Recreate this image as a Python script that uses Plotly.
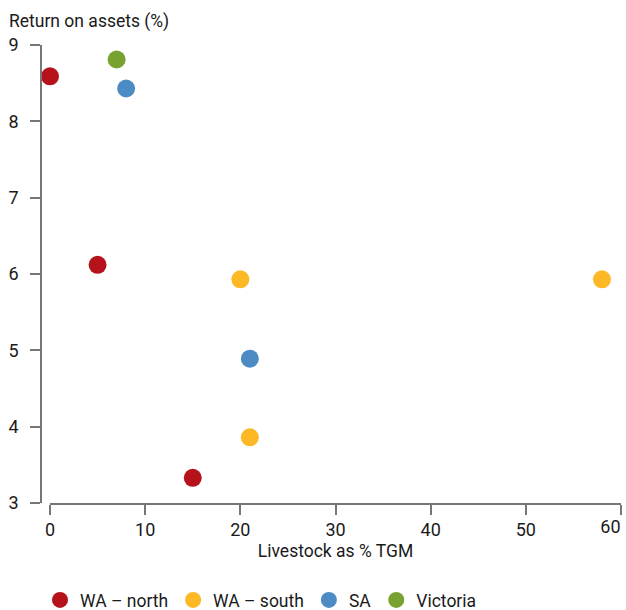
import plotly.graph_objects as go

series_names = ["WA – north", "WA – south", "SA", "Victoria"]
series_colors = ["#b5121b", "#fdb825", "#4d8bc4", "#77a22f"]
livestock = [
    [0, 5, 15],
    [20, 58, 21],
    [8, 21],
    [7],
]
roa = [
    [8.59, 6.12, 3.33],
    [5.93, 5.93, 3.86],
    [8.43, 4.89],
    [8.81],
]
x_ticks = [0, 10, 20, 30, 40, 50, 60]
x_tick_labels = ["0", "10", "20", "30", "40", "50", "60"]
y_ticks = [3, 4, 5, 6, 7, 8, 9]

FONT = "Roboto, Liberation Sans, sans-serif"
FS_TICK = 18
FS_TEXT = 17.5
AX = "#777777"

fig = go.Figure()
for name, color, xs, ys in zip(series_names, series_colors, livestock, roa):
    fig.add_trace(go.Scatter(
        x=xs, y=ys, mode="markers", name=name,
        marker=dict(size=18, color=color, line=dict(width=0)),
        cliponaxis=False,
    ))
# empty trace only so that the overlaying label axis (xaxis2) is drawn
fig.add_trace(go.Scatter(x=[], y=[], xaxis="x2", yaxis="y", showlegend=False,
                         hoverinfo="skip", mode="markers"))

L, R, T, B = 41, 5, 45, 107
plot_w = 626 - L - R
plot_h = 610 - T - B
x_dom = [9 / plot_w, 1]
common_x = dict(
    domain=x_dom, range=[0, 60], automargin=False,
    showgrid=False, zeroline=False, tickfont=dict(size=FS_TICK),
)
fig.update_layout(
    width=626, height=610,
    margin=dict(l=L, r=R, t=T, b=B, autoexpand=False),
    paper_bgcolor="white", plot_bgcolor="white",
    font=dict(family=FONT, size=FS_TICK, color="#1a1a1a"),
    showlegend=True,
    legend=dict(orientation="h", x=(40 - L) / plot_w, xanchor="left",
                y=-(B + 8) / plot_h, yanchor="bottom",
                font=dict(size=FS_TEXT), itemsizing="trace", traceorder="normal",
                tracegroupgap=0, itemwidth=30),
    xaxis=dict(
        **common_x,
        tickvals=x_ticks, ticktext=x_tick_labels[:-1] + [""],
        showline=True, linecolor=AX, linewidth=1.5,
        ticks="outside", ticklen=10, tickcolor=AX, tickwidth=1.5,
        title=dict(text="Livestock as % TGM", standoff=5, font=dict(size=FS_TEXT)),
    ),
    # last x label sits left of its tick so it stays inside the figure
    xaxis2=dict(
        **common_x, overlaying="x", side="bottom", anchor="y",
        tickvals=x_ticks[-1:], ticktext=x_tick_labels[-1:],
        ticklabelposition="outside left", showline=False, ticklabelstandoff=7,
        ticks="outside", ticklen=10, tickcolor="rgba(0,0,0,0)",
    ),
    yaxis=dict(
        range=[3, 9], tickvals=y_ticks, anchor="free", position=0, automargin=False,
        showgrid=False, zeroline=False, showline=True, linecolor=AX, linewidth=1.5,
        ticks="outside", ticklen=10, tickcolor=AX, tickwidth=1.5,
        tickfont=dict(size=FS_TICK), ticklabelstandoff=8,
    ),
    annotations=[dict(
        text="Return on assets (%)", xref="paper", yref="paper",
        x=(7 - L) / plot_w, y=1 + 11 / plot_h,
        xanchor="left", yanchor="bottom", showarrow=False,
        font=dict(family=FONT, size=FS_TEXT, color="#1a1a1a"),
    )],
)

fig.write_html("out.html", config={"displayModeBar": False},
               post_script="document.body.style.margin='0';")
